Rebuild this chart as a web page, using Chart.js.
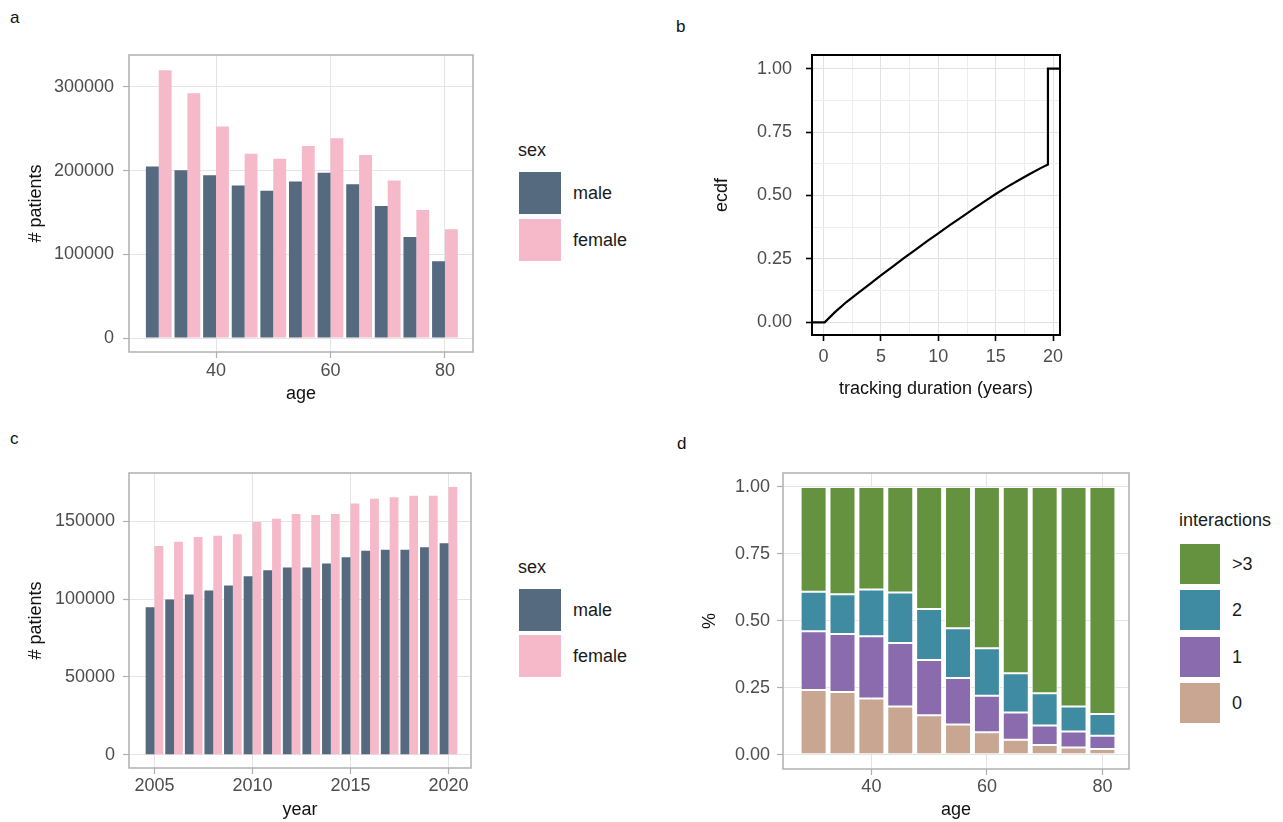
<!DOCTYPE html>
<html>
<head>
<meta charset="utf-8">
<script src="https://cdn.jsdelivr.net/npm/chart.js@4.4.0/dist/chart.umd.min.js"></script>
<style>
  body { margin: 0; width: 1283px; height: 822px; background: #fff; position: relative; overflow: hidden;
         font-family: "Liberation Sans", Arial, sans-serif; }
  canvas { position: absolute; }
  .tag { position: absolute; font-size: 17px; color: #111; line-height: 20px; }
  .lg { position: absolute; font-size: 18px; color: #1a1a1a; white-space: nowrap; }
  .key { position: absolute; }
</style>
</head>
<body>
<div class="tag" style="left:10px;top:8px">a</div>
<div class="tag" style="left:676px;top:17px">b</div>
<div class="tag" style="left:10px;top:429px">c</div>
<div class="tag" style="left:677px;top:434px">d</div>

<canvas id="pa" width="490" height="380" style="left:0;top:40px"></canvas>
<canvas id="pb" width="400" height="380" style="left:690px;top:40px"></canvas>
<canvas id="pc" width="490" height="362" style="left:0;top:460px"></canvas>
<canvas id="pd" width="460" height="362" style="left:690px;top:460px"></canvas>

<script>
// --- data ---
const ages = [30, 35, 40, 45, 50, 55, 60, 65, 70, 75, 80];
const maleByAge   = [204700, 200300, 194400, 182000, 176000, 186800, 197500, 183600, 157700, 120700, 91600];
const femaleByAge = [319800, 292300, 252500, 220200, 214200, 229400, 238600, 218600, 188000, 152900, 129900];

const ecdfX = [-1.0, 0.1, 1, 2, 3, 4, 5, 6, 7, 8, 9, 10, 11, 12, 13, 14, 15, 16, 17, 18, 19, 19.55, 19.55, 20.6];
const ecdfY = [0, 0, 0.04, 0.08, 0.115, 0.15, 0.185, 0.219, 0.253, 0.286, 0.319, 0.351, 0.383, 0.414,
               0.445, 0.476, 0.506, 0.534, 0.56, 0.586, 0.61, 0.622, 1.0, 1.0];

const years = [2005, 2006, 2007, 2008, 2009, 2010, 2011, 2012, 2013, 2014, 2015, 2016, 2017, 2018, 2019, 2020];
const maleByYear   = [94900, 99800, 103000, 105600, 108800, 114800, 118700, 120400, 120400, 122900,
                      127000, 131100, 131900, 131900, 133500, 136000];
const femaleByYear = [134300, 136900, 140100, 140900, 141800, 149700, 151700, 154900, 154200, 154900,
                      161500, 164700, 165600, 166500, 166500, 172200];

const interNames = ['0', '1', '2', '>3'];
const inter0 = [0.242, 0.234, 0.210, 0.180, 0.148, 0.113, 0.084, 0.056, 0.037, 0.027, 0.022];
const inter1 = [0.219, 0.217, 0.233, 0.237, 0.206, 0.174, 0.136, 0.102, 0.072, 0.060, 0.049];
const inter2 = [0.148, 0.148, 0.174, 0.189, 0.190, 0.185, 0.178, 0.146, 0.121, 0.093, 0.081];
const inter3 = [0.391, 0.401, 0.383, 0.394, 0.456, 0.528, 0.602, 0.696, 0.770, 0.820, 0.848];

const sexNames = ['male', 'female'];
const ageTicks = [40, 60, 80];
const countTicksA = [0, 100000, 200000, 300000];
const countTicksC = [0, 50000, 100000, 150000];
const yearTicks = [2005, 2010, 2015, 2020];
const durMajor = [0, 5, 10, 15, 20];
const durMinor = [2.5, 7.5, 12.5, 17.5];
const propMajor = [0, 0.25, 0.5, 0.75, 1];
const propMinor = [0.125, 0.375, 0.625, 0.875];

// --- styling ---
const FAMILY = "'Liberation Sans', Arial, sans-serif";
const MALE = '#55697f', FEMALE = '#f6b9c9';
const interColors = ['#c8a692', '#8a6cae', '#3e8ba2', '#65923f'];
const TICK_GREY = '#4d4d4d';
const LIGHT_GRID = '#e4e4e4';
const LIGHT_BORDER = '#b0b0b0';

// frame around the plotting area, drawn over the data like ggplot does
const panelBorder = {
    id: 'panelBorder',
    afterDatasetsDraw(chart, args, opts) {
        const { ctx, chartArea: a } = chart;
        ctx.save();
        ctx.strokeStyle = opts.color;
        ctx.lineWidth = opts.width;
        ctx.strokeRect(a.left, a.top, a.right - a.left, a.bottom - a.top);
        ctx.restore();
    }
};

function axis(o) {
    const minor = o.minor || [];
    const isMajor = v => o.major.includes(v);
    return {
        type: 'linear', min: o.min, max: o.max, offset: false, stacked: !!o.stacked,
        afterBuildTicks: s => { s.ticks = o.major.concat(minor).sort((p, q) => p - q).map(v => ({ value: v })); },
        afterFit: s => {
            if (o.width) s.width = o.width;
            if (o.height) s.height = o.height;
            // keep the plot area where the layout padding puts it
            s.paddingTop = s.paddingBottom = s.paddingLeft = s.paddingRight = 0;
        },
        ticks: {
            color: TICK_GREY, font: { family: FAMILY, size: 18 }, padding: o.pad,
            autoSkip: false, maxRotation: 0,
            callback: v => isMajor(v) ? (o.fmt ? o.fmt(v) : String(v)) : ''
        },
        grid: {
            offset: false, tickLength: 6, lineWidth: 1, tickWidth: o.tickWidth || 1.2,
            color: c => (c.tick && !isMajor(c.tick.value)) ? (o.minorCol || LIGHT_GRID) : (o.gridCol || LIGHT_GRID),
            tickColor: c => (c.tick && !isMajor(c.tick.value)) ? 'rgba(0,0,0,0)' : (o.tickCol || LIGHT_BORDER)
        },
        border: { display: false },
        title: { display: true, text: o.title, color: '#111', font: { family: FAMILY, size: 18 }, padding: o.titlePad }
    };
}

const common = {
    responsive: false, animation: false, devicePixelRatio: 1,
    events: []
};

function plugins(borderColor, borderWidth) {
    return { legend: { display: false }, tooltip: { enabled: false },
             panelBorder: { color: borderColor, width: borderWidth } };
}

const pts = (xs, ys) => xs.map((x, i) => ({ x: x, y: ys[i] }));

// a: patients by age and sex
new Chart(document.getElementById('pa'), {
    type: 'bar',
    data: { datasets: [
        { label: sexNames[0], data: pts(ages, maleByAge), backgroundColor: MALE, categoryPercentage: 0.9, barPercentage: 1 },
        { label: sexNames[1], data: pts(ages, femaleByAge), backgroundColor: FEMALE, categoryPercentage: 0.9, barPercentage: 1 }
    ]},
    options: { ...common,
        layout: { padding: { top: 15, right: 17, left: 0, bottom: 0 } },
        scales: {
            x: axis({ min: 24.8, max: 84.9, major: ageTicks, height: 68, pad: 2, title: 'age', titlePad: { top: 0, bottom: 15 } }),
            y: axis({ min: -16700, max: 338000, major: countTicksA, width: 129, pad: 9, title: '# patients', titlePad: { top: 25, bottom: 0 } })
        },
        plugins: plugins(LIGHT_BORDER, 1.5)
    },
    plugins: [panelBorder]
});

// b: ecdf of tracking duration
new Chart(document.getElementById('pb'), {
    type: 'scatter',
    data: { datasets: [
        { data: pts(ecdfX, ecdfY), showLine: true, borderColor: '#000', borderWidth: 2.2, pointRadius: 0, tension: 0 }
    ]},
    options: { ...common,
        layout: { padding: { top: 15, right: 30, left: 0, bottom: 0 } },
        scales: {
            x: axis({ min: -1.0, max: 20.6, major: durMajor, minor: durMinor, height: 85, pad: 5,
                      gridCol: '#e2e2e2', minorCol: '#eeeeee', tickCol: '#000', tickWidth: 1.6,
                      title: 'tracking duration (years)', titlePad: { top: 0, bottom: 20 } }),
            y: axis({ min: -0.05, max: 1.054, major: propMajor, minor: propMinor, width: 122, pad: 14,
                      gridCol: '#e2e2e2', minorCol: '#eeeeee', tickCol: '#000', tickWidth: 1.6,
                      fmt: v => v.toFixed(2), title: 'ecdf', titlePad: { top: 21, bottom: 0 } })
        },
        plugins: plugins('#000', 2)
    },
    plugins: [panelBorder]
});

// c: patients by year and sex
new Chart(document.getElementById('pc'), {
    type: 'bar',
    data: { datasets: [
        { label: sexNames[0], data: pts(years, maleByYear), backgroundColor: MALE, categoryPercentage: 0.9, barPercentage: 1 },
        { label: sexNames[1], data: pts(years, femaleByYear), backgroundColor: FEMALE, categoryPercentage: 0.9, barPercentage: 1 }
    ]},
    options: { ...common,
        layout: { padding: { top: 13, right: 19, left: 0, bottom: 0 } },
        scales: {
            x: axis({ min: 2003.7, max: 2021.15, major: yearTicks, height: 54, pad: 1, title: 'year', titlePad: { top: 0, bottom: 1 } }),
            y: axis({ min: -8600, max: 181200, major: countTicksC, width: 129, pad: 8, title: '# patients', titlePad: { top: 25, bottom: 0 } })
        },
        plugins: plugins(LIGHT_BORDER, 1.5)
    },
    plugins: [panelBorder]
});

// d: share of interactions by age
const interSeries = [inter0, inter1, inter2, inter3];
new Chart(document.getElementById('pd'), {
    type: 'bar',
    data: { datasets: interSeries.map((s, i) => ({
        label: interNames[i], data: pts(ages, s), backgroundColor: interColors[i],
        borderColor: '#fff', borderWidth: 1, borderSkipped: false,
        categoryPercentage: 0.9, barPercentage: 1
    })) },
    options: { ...common,
        layout: { padding: { top: 13, right: 21, left: 0, bottom: 0 } },
        scales: {
            x: axis({ min: 24.7, max: 84.6, major: ageTicks, height: 53, pad: 1, stacked: true, title: 'age', titlePad: { top: 0, bottom: 1 } }),
            y: axis({ min: -0.053, max: 1.052, major: propMajor, width: 93, pad: 7, stacked: true,
                      fmt: v => v.toFixed(2), title: '%', titlePad: { top: 9, bottom: 0 } })
        },
        plugins: plugins(LIGHT_BORDER, 1.5)
    },
    plugins: [panelBorder]
});

// legends (ggplot style, to the right of panels)
function legend(x, titleMid, keyTops, keySize, labelX, title, names, colors) {
    const add = (text, cls, style) => {
        const d = document.createElement('div');
        d.className = cls; d.textContent = text;
        Object.assign(d.style, style);
        document.body.appendChild(d);
    };
    add(title, 'lg', { left: (x - 1) + 'px', top: (titleMid - 12) + 'px', lineHeight: '22px' });
    names.forEach((n, i) => {
        add('', 'key', { left: x + 'px', top: keyTops[i] + 'px', width: keySize + 'px', height: keySize + 'px', background: colors[i] });
        add(n, 'lg', { left: labelX + 'px', top: keyTops[i] + 'px', lineHeight: keySize + 'px' });
    });
}
legend(519, 151, [172, 219], 42, 573, 'sex', sexNames, [MALE, FEMALE]);
legend(519, 568, [589, 635], 42, 573, 'sex', sexNames, [MALE, FEMALE]);
legend(1180, 521, [544, 590, 637, 683], 40, 1232, 'interactions',
       interNames.slice().reverse(), interColors.slice().reverse());
</script>
</body>
</html>
